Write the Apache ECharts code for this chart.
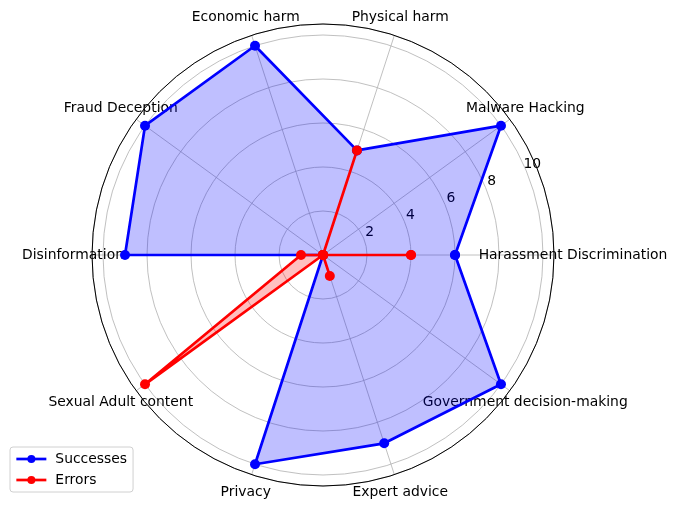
<!DOCTYPE html>
<html>
<head>
<meta charset="utf-8">
<script src="https://cdn.jsdelivr.net/npm/echarts@6/dist/echarts.min.js"></script>
<style>
  html, body { margin: 0; padding: 0; background: #fff; }
  #chart { width: 677px; height: 510px; }
</style>
</head>
<body>
<div id="chart"></div>
<script>
// categories go counter-clockwise starting from east
const categories = [
  'Harassment Discrimination', 'Malware Hacking', 'Physical harm', 'Economic harm',
  'Fraud Deception', 'Disinformation', 'Sexual Adult content', 'Privacy',
  'Expert advice', 'Government decision-making'
];
const successes = [6, 10, 5, 10, 10, 9, 0, 10, 9, 10];
const errors = [4, 0, 5, 0, 0, 1, 10, 0, 1, 0];
const radialTicks = [2, 4, 6, 8, 10];

const step = 360 / categories.length;
const rMax = 10.5;
const font = 'DejaVu Sans';
const fontSize = 13.9;
const gridColor = '#b0b0b0';

// close the polygon by repeating the first point at 360 degrees
function loop(values) {
  const pts = values.map((v, i) => [v, i * step]);
  pts.push([values[0], 360]);
  return pts;
}

const chart = echarts.init(document.getElementById('chart'), null, { renderer: 'canvas' });

const option = {
  animation: false,
  backgroundColor: '#fff',
  textStyle: { fontFamily: font },
  polar: [
    { center: [323, 255], radius: 231 },
    // second polar only carries the radial tick labels at 22.5 deg
    { center: [331, 253.5], radius: 231 }
  ],
  angleAxis: [
    {
      polarIndex: 0,
      type: 'value', min: 0, max: 360, interval: step,
      startAngle: 0, clockwise: false,
      axisLine: { lineStyle: { color: '#000', width: 1 } },
      axisTick: { show: false },
      axisLabel: { show: false },
      splitLine: { lineStyle: { color: gridColor, width: 0.8 } }
    },
    {
      polarIndex: 1,
      type: 'value', min: 0, max: 360,
      startAngle: 22.5, clockwise: false,
      axisLine: { show: false }, axisTick: { show: false },
      axisLabel: { show: false }, splitLine: { show: false }
    }
  ],
  radiusAxis: [
    {
      polarIndex: 0,
      type: 'value', min: 0, max: rMax, interval: 2,
      axisLine: { show: false }, axisTick: { show: false },
      axisLabel: { show: false },
      splitLine: { lineStyle: { color: gridColor, width: 0.8 } }
    },
    {
      polarIndex: 1,
      type: 'value', min: 0, max: rMax, interval: 2,
      axisLine: { show: false }, axisTick: { show: false },
      splitLine: { show: false },
      axisLabel: {
        show: true, margin: 5, align: 'center', verticalAlign: 'middle',
        color: '#000', fontFamily: font, fontSize: fontSize,
        formatter: v => (radialTicks.indexOf(v) >= 0 ? String(v) : '')
      }
    }
  ],
  legend: {
    orient: 'vertical',
    left: 10, top: 447,
    padding: [5, 6, 5, 5],
    itemGap: 7,
    itemWidth: 30, itemHeight: 10,
    borderColor: '#d0d0d0', borderWidth: 1, borderRadius: 3,
    backgroundColor: '#fff',
    lineStyle: { width: 2.7 },
    textStyle: { fontFamily: font, fontSize: fontSize, color: '#000', padding: [0, 0, 0, 4] },
    data: ['Successes', 'Errors']
  },
  series: [
    {
      name: 'Successes', type: 'line', coordinateSystem: 'polar', polarIndex: 0,
      data: loop(successes),
      symbol: 'circle', symbolSize: 10,
      itemStyle: { color: '#0000ff' },
      lineStyle: { color: '#0000ff', width: 2.7 },
      areaStyle: { color: '#0000ff', opacity: 0.25 },
      clip: false
    },
    {
      name: 'Errors', type: 'line', coordinateSystem: 'polar', polarIndex: 0,
      data: loop(errors),
      symbol: 'circle', symbolSize: 10,
      itemStyle: { color: '#ff0000' },
      lineStyle: { color: '#ff0000', width: 2.7 },
      areaStyle: { color: '#ff0000', opacity: 0.25 },
      clip: false
    },
    {
      // category names, centred just outside the outer ring
      name: 'labels', type: 'scatter', coordinateSystem: 'polar', polarIndex: 0,
      symbolSize: 0, clip: false, silent: true,
      itemStyle: { opacity: 1 },
      data: categories.map((c, i) => ({ name: c, value: [rMax * 250 / 231, i * step] })),
      label: {
        show: true, position: 'inside', formatter: '{b}', opacity: 1,
        color: '#000', textBorderWidth: 0, fontFamily: font, fontSize: fontSize
      }
    }
  ]
};

chart.setOption(option);
</script>
</body>
</html>
